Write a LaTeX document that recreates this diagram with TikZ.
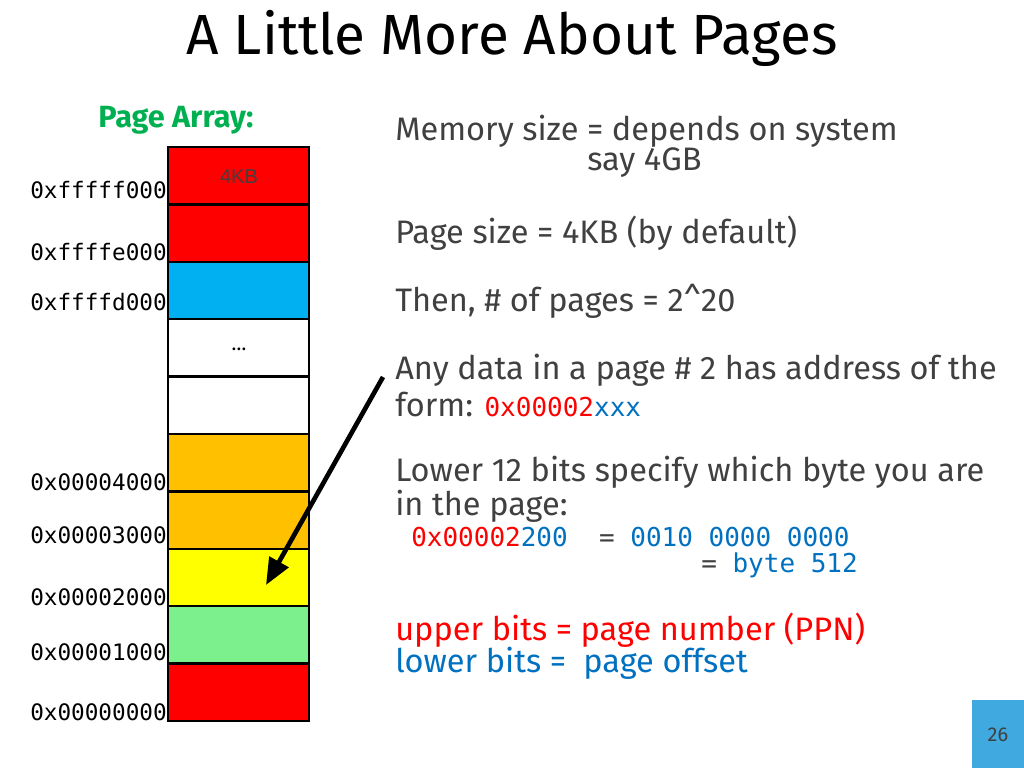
\documentclass[tikz,border=0pt]{standalone}
\usetikzlibrary{arrows.meta}
\usepackage{fontspec}
\setmainfont{Fira Sans}
\setmonofont{DejaVu Sans Mono}
\newfontfamily\arialfont{Liberation Sans}
\definecolor{pred}{HTML}{FF0000}
\definecolor{pblue}{HTML}{00B0F0}
\definecolor{porange}{HTML}{FFC000}
\definecolor{pyellow}{HTML}{FFFF00}
\definecolor{pgreen}{HTML}{7CF08C}
\definecolor{tgreen}{HTML}{00B050}
\definecolor{tblue}{HTML}{0070C0}
\definecolor{tgray}{HTML}{404040}
\definecolor{numbox}{HTML}{3FA9E0}
\begin{document}
\begin{tikzpicture}[x=0.75pt,y=-0.75pt,
  cell/.style={draw=black,line width=1.8pt},
  addr/.style={anchor=east,font=\ttfamily\fontsize{17}{19}\selectfont,text=black,inner sep=0pt},
  body/.style={anchor=west,font=\fontsize{24.4}{28}\selectfont,text=tgray,inner sep=0pt,align=left}]
\useasboundingbox (0,0) rectangle (1024,768);
\node[font=\fontsize{42.5}{48}\selectfont,text=black] (title) at (512,38) {A Little More About Pages};
\node[font=\bfseries\fontsize{23}{27}\selectfont,text=tgreen] (pa) at (176,120) {Page Array:};
% cells
\foreach \c/\i in {pred/0,pred/1,pblue/2,white/3,white/4,porange/5,porange/6,pyellow/7,pgreen/8,pred/9}{
  \path[cell,fill=\c] (168,{147+57.4*\i}) rectangle (309,{147+57.4*(\i+1)});
}
\node[font=\arialfont\fontsize{15}{17}\selectfont,text=tgray] (kb) at (239,177) {4KB};
\node[font=\fontsize{15}{17}\selectfont] (dots) at (239,349) {\dots};
\node[addr] (a1) at (167,190) {0xfffff000};
\node[addr] (a2) at (167,252) {0xffffe000};
\node[addr] (a3) at (167,302) {0xffffd000};
\node[addr] (a4) at (167,482) {0x00004000};
\node[addr] (a5) at (167,535) {0x00003000};
\node[addr] (a6) at (167,597) {0x00002000};
\node[addr] (a7) at (167,652) {0x00001000};
\node[addr] (a8) at (167,712) {0x00000000};
\coordinate (as) at (383,377);
\coordinate (ae) at (266,585);
\draw[line width=3.5pt,-{Triangle[length=20pt,width=16pt]}] (as) -- (ae);
% text
\node[body] (t1) at (395,131) {Memory size = depends on system};
\node[body] (t1b) at (587,163) {say 4GB};
\node[body] (t2) at (395,233) {Page size = 4KB (by default)};
\node[body] (t3) at (395,301) {Then, \# of pages = 2\textasciicircum20};
\node[body] (t4) at (395,370) {Any data in a page \# 2 has address of the};
\node[body] (t4b) at (395,404) {form: {\ttfamily\fontsize{19.5}{22}\selectfont\textcolor{pred}{0x00002}\textcolor{tblue}{xxx}}};
\node[body] (t5) at (395,472) {Lower 12 bits specify which byte you are};
\node[body] (t5b) at (395,506) {in the page:};
\node[anchor=west,inner sep=0pt,font=\ttfamily\fontsize{19.5}{22}\selectfont,text=tgray] (t6) at (411,537) {\textcolor{pred}{0x00002}\textcolor{tblue}{200}\ \ = \textcolor{tblue}{0010 0000 0000}};
\node[anchor=west,inner sep=0pt,font=\ttfamily\fontsize{19.5}{22}\selectfont,text=tgray] (t7) at (701,565) {= \textcolor{tblue}{byte 512}};
\node[body,text=pred] (t8) at (395,630) {upper bits = page number (PPN)};
\node[body,text=tblue] (t9) at (395,663) {lower bits =\ \ page offset};
\fill[numbox] (972,700) rectangle (1024,768);
\node[font=\fontsize{15}{17}\selectfont,text=tgray] (num) at (998,735) {26};
\end{tikzpicture}
\end{document}
